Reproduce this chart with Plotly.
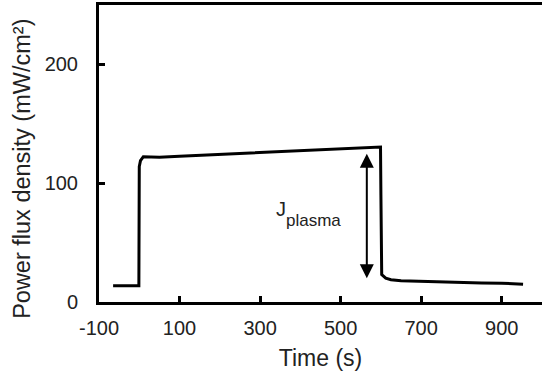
import plotly.graph_objects as go

time_s = [-65, -1, 0, 3, 10, 50, 100, 150, 200, 250, 300, 350, 400, 450, 500, 550, 599, 600, 602, 612, 625, 650, 700, 750, 800, 850, 900, 930, 953]
flux = [13.7, 13.7, 114, 119, 122.2, 121.9, 122.7, 123.5, 124.2, 124.9, 125.8, 126.5, 127.3, 128.0, 128.8, 129.6, 130.4, 90, 23, 20, 18.7, 17.8, 17.2, 16.6, 16.3, 16.0, 15.8, 15.5, 15.0]

x_ticks = [-100, 100, 300, 500, 700, 900]
y_ticks = [0, 100, 200]

arrow_x = 565
arrow_top = 126
arrow_bottom = 20

FONT = "Arial, 'Liberation Sans', sans-serif"
TXT = "#222222"

fig = go.Figure()
fig.add_trace(go.Scatter(x=time_s, y=flux, mode="lines",
                         line=dict(color="black", width=3), showlegend=False,
                         hoverinfo="skip"))

# double-headed arrow
fig.add_annotation(x=arrow_x, y=arrow_bottom, ax=arrow_x, ay=arrow_top,
                   xref="x", yref="y", axref="x", ayref="y",
                   showarrow=True, arrowhead=2, startarrowhead=2, arrowside="end+start",
                   arrowsize=1.4, arrowwidth=2, arrowcolor="black", text="")
# J_plasma label
fig.add_annotation(x=335, y=78, xref="x", yref="y", text="J",
                   showarrow=False, font=dict(family=FONT, size=20, color=TXT),
                   xanchor="left", yanchor="middle")
fig.add_annotation(x=360, y=69, xref="x", yref="y", text="plasma",
                   showarrow=False, font=dict(family=FONT, size=17, color=TXT),
                   xanchor="left", yanchor="middle")

# y-axis title (placed as in the reference, slightly below the axis centre)
fig.add_annotation(x=-0.174, y=0.448, xref="paper", yref="paper",
                   text="Power flux density (mW/cm²)", textangle=-90,
                   showarrow=False, font=dict(family=FONT, size=23.5, color=TXT),
                   xanchor="center", yanchor="middle")

fig.update_layout(
    width=542, height=378,
    margin=dict(l=99, r=0, t=5, b=76),
    plot_bgcolor="white", paper_bgcolor="white",
    font=dict(family=FONT, size=20, color=TXT),
)
fig.update_xaxes(range=[-100, 1000], tickvals=x_ticks, ticktext=[str(v) for v in x_ticks],
                 showline=True, linecolor="black", linewidth=3, mirror=True,
                 ticks="inside", ticklen=6, tickwidth=2.5, tickcolor="black",
                 ticklabelstandoff=6,
                 showgrid=False, zeroline=False,
                 title=dict(text="Time (s)", font=dict(size=23, family=FONT, color=TXT), standoff=12),
                 tickfont=dict(size=20, family=FONT, color=TXT))
fig.update_yaxes(range=[0, 250], tickvals=y_ticks,
                 showline=True, linecolor="black", linewidth=3,
                 ticks="inside", ticklen=6, tickwidth=2.5, tickcolor="black",
                 ticklabelstandoff=14,
                 showgrid=False, zeroline=False,
                 tickfont=dict(size=20, family=FONT, color=TXT))

fig.write_html("out.html")
